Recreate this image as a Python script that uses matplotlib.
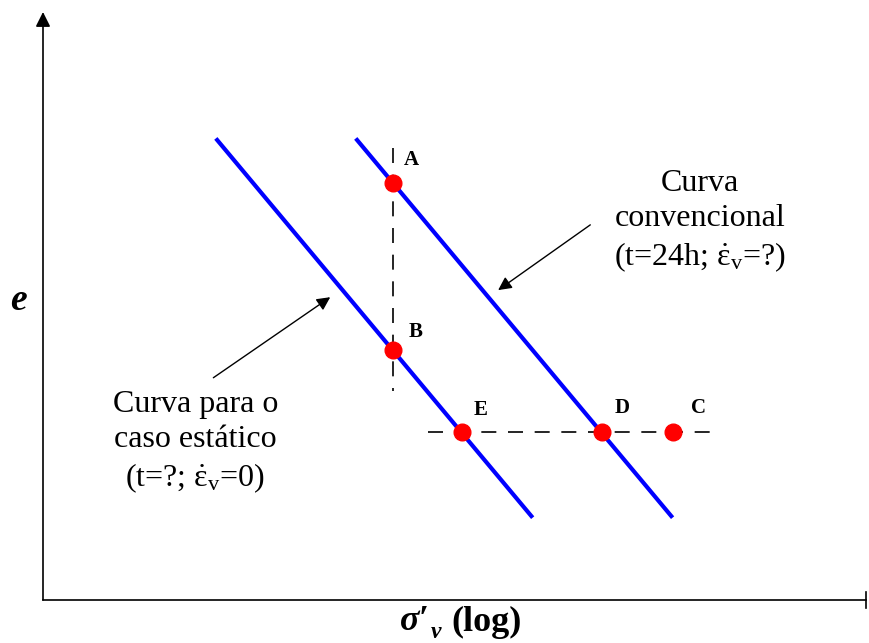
import numpy as np
import matplotlib.pyplot as plt

plt.rcParams['font.family'] = ['Liberation Serif', 'DejaVu Serif']
plt.rcParams['mathtext.fontset'] = 'custom'
plt.rcParams['mathtext.rm'] = 'Liberation Serif'
plt.rcParams['mathtext.it'] = 'Liberation Serif:italic'

# curvas e-log(sigma'v) (unidades arbitrárias)
x_estatico = [2.1, 5.95]
y_estatico = [7.85, 1.4]
x_convencional = [3.8, 7.65]
y_convencional = [7.85, 1.4]

# pontos
pontos = ['A', 'B', 'E', 'D', 'C']
x_pontos = [4.25, 4.25, 5.09, 6.79, 7.65]
y_pontos = [7.1, 4.25, 2.85, 2.85, 2.85]

fig = plt.figure(figsize=(8.7, 6.43), dpi=100)
ax = fig.add_axes([43 / 870, 43 / 643, 823 / 870, 588 / 643])
ax.set_xlim(0, 10)
ax.set_ylim(0, 10)
ax.axis('off')

# eixos
ax.annotate('', xy=(0, 1), xytext=(0, 0), xycoords='axes fraction',
            arrowprops=dict(arrowstyle='-|>', lw=1.2, color='k', mutation_scale=22,
                            shrinkA=0, shrinkB=0))
ax.plot([0, 1], [0, 0], color='k', lw=1.2, transform=ax.transAxes, clip_on=False)
ax.plot([1, 1], [-0.014, 0.014], color='k', lw=1.2, transform=ax.transAxes, clip_on=False)

# linhas tracejadas
ax.plot([4.25, 4.25], [7.69, 3.55], color='k', lw=1.2, dashes=(9, 7))
ax.plot([4.68, 8.13], [2.85, 2.85], color='k', lw=1.2, dashes=(9, 7))

ax.plot(x_estatico, y_estatico, color='#0000ff', lw=3, solid_capstyle='butt')
ax.plot(x_convencional, y_convencional, color='#0000ff', lw=3, solid_capstyle='butt')
ax.plot(x_pontos, y_pontos, 'o', color='#ff0000', markersize=12, zorder=5)

dx = [0.23, 0.28, 0.23, 0.25, 0.31]
dy = [0.38, 0.31, 0.38, 0.42, 0.42]
for p, x, y, ox, oy in zip(pontos, x_pontos, y_pontos, dx, dy):
    ax.text(x + ox, y + oy, p, fontsize=15, fontweight='bold', ha='center', va='center')

# anotações
ax.annotate('', xy=(5.53, 5.27), xytext=(6.65, 6.38),
            arrowprops=dict(arrowstyle='-|>', lw=1, color='k', mutation_scale=20,
                            shrinkA=0, shrinkB=0))
ax.annotate('', xy=(3.49, 5.15), xytext=(2.07, 3.78),
            arrowprops=dict(arrowstyle='-|>', lw=1, color='k', mutation_scale=20,
                            shrinkA=0, shrinkB=0))

eps = '$\\dot{\\mathrm{ε}}_\\mathrm{v}$'
ax.text(7.98, 6.44, 'Curva\nconvencional\n(t=24h; ' + eps + '=?)',
        fontsize=23, ha='center', va='center', linespacing=1.28)
ax.text(1.85, 2.68, 'Curva para o\ncaso estático\n(t=?; ' + eps + '=0)',
        fontsize=23, ha='center', va='center', linespacing=1.28)

fig.text(18 / 870, 1 - 300 / 643, 'e', fontsize=27, fontweight='bold', fontstyle='italic',
         ha='center', va='center')
# rótulo do eixo x: σ′ com índice v
fig.text(400 / 870, 1 - 622 / 643, 'σ′', fontsize=26, fontweight='bold', fontstyle='italic',
         ha='left', va='center')
fig.text(431 / 870, 1 - 632 / 643, 'v', fontsize=17, fontweight='bold', fontstyle='italic',
         ha='left', va='center')
fig.text(451 / 870, 1 - 622 / 643, '(log)', fontsize=26, fontweight='bold',
         ha='left', va='center')

plt.savefig('out.png')
